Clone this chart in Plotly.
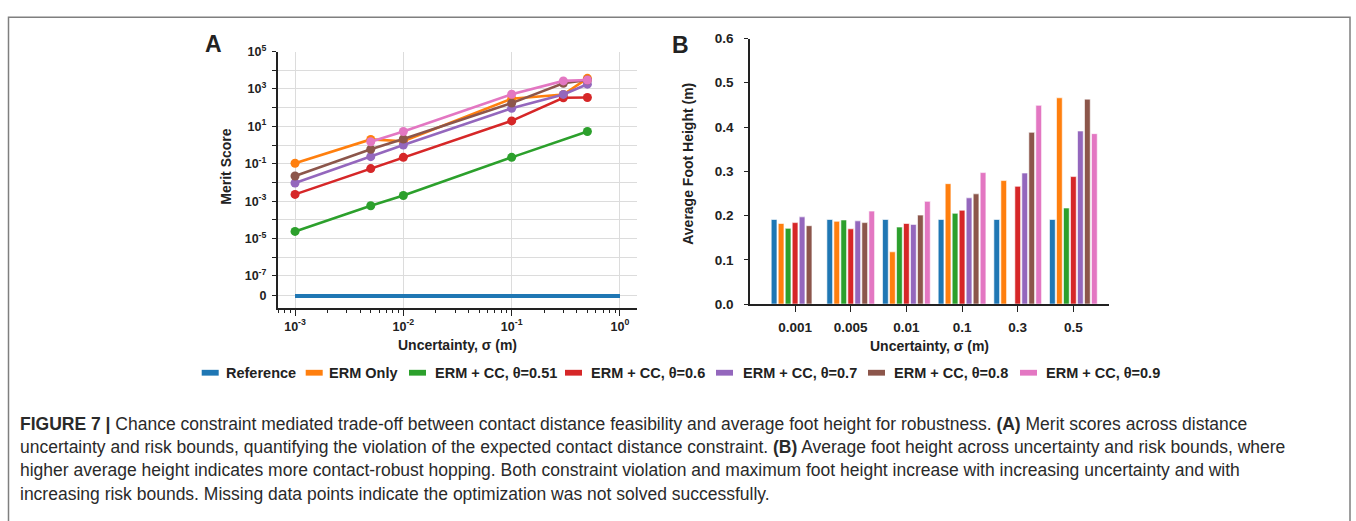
import plotly.graph_objects as go

W, H = 1356, 521

# ---------------- data ----------------
sigma = [0.001, 0.005, 0.01, 0.1, 0.3, 0.5]
sigma_labels = ["0.001", "0.005", "0.01", "0.1", "0.3", "0.5"]
series_names = ["Reference", "ERM Only", "ERM + CC, θ=0.51", "ERM + CC, θ=0.6",
                "ERM + CC, θ=0.7", "ERM + CC, θ=0.8", "ERM + CC, θ=0.9"]
colors = ["#1f77b4", "#ff7f0e", "#2ca02c", "#d62728", "#9467bd", "#8c564b", "#e377c2"]

# Panel A: merit scores (None = not solved)
reference_sigma = [0.001, 1.0]
reference_merit = [0, 0]
merit_erm = [0.107, 2.0, 1.6, 300, 500, 3700]
merit_051 = [2.4e-5, 5.7e-4, 2.0e-3, 0.22, None, 5.3]
merit_06 = [0.0023, 0.055, 0.22, 19.6, 340, 350]
merit_07 = [0.0093, 0.24, 1.0, 93, 510, 1800]
merit_08 = [0.022, 0.6, 2.1, 175, 2000, 3000]
merit_09 = [None, 1.5, 5.3, 520, 2700, 3000]

# Panel B: average foot height (m)
height_ref = [0.191, 0.191, 0.191, 0.191, 0.191, 0.191]
height_erm = [0.182, 0.187, 0.118, 0.272, 0.279, 0.466]
height_051 = [0.171, 0.190, 0.174, 0.205, None, 0.217]
height_06 = [0.184, 0.170, 0.182, 0.212, 0.266, 0.288]
height_07 = [0.197, 0.188, 0.180, 0.240, 0.296, 0.391]
height_08 = [0.177, 0.184, 0.201, 0.249, 0.388, 0.463]
height_09 = [None, 0.210, 0.232, 0.297, 0.449, 0.385]

# "0" on the broken log axis is drawn just below 10^-8
ZERO_DISPLAY = 8.5e-9
y_label_exponents = [5, 3, 1, -1, -3, -5, -7]
y_grid_exponents = [4, 2, 0, -2, -4, -6]
x_exponents = [-3, -2, -1, 0]

caption_lines = [
    "<b>FIGURE 7 |</b> Chance constraint mediated trade-off between contact distance feasibility and average foot height for robustness. <b>(A)</b> Merit scores across distance",
    "uncertainty and risk bounds, quantifying the violation of the expected contact distance constraint. <b>(B)</b> Average foot height across uncertainty and risk bounds, where",
    "higher average height indicates more contact-robust hopping. Both constraint violation and maximum foot height increase with increasing uncertainty and with",
    "increasing risk bounds. Missing data points indicate the optimization was not solved successfully.",
]

# ---------------- helpers ----------------
def px(x):
    return x / W

def py(y):
    return 1 - y / H

FONT = "Liberation Sans, Arial, sans-serif"
INK = "#222222"

fig = go.Figure()

# Panel A
fig.add_trace(go.Scatter(
    x=reference_sigma, y=[ZERO_DISPLAY if v == 0 else v for v in reference_merit],
    mode="lines", line=dict(color=colors[0], width=4),
    name=series_names[0], showlegend=False, xaxis="x", yaxis="y"))
merits = [merit_erm, merit_051, merit_06, merit_07, merit_08, merit_09]
for i, m in enumerate(merits):
    fig.add_trace(go.Scatter(
        x=sigma, y=m, mode="lines+markers", connectgaps=True,
        line=dict(color=colors[i + 1], width=2.6),
        marker=dict(color=colors[i + 1], size=9),
        name=series_names[i + 1], showlegend=False, xaxis="x", yaxis="y"))

# Panel B
heights = [height_ref, height_erm, height_051, height_06, height_07, height_08, height_09]
for i, h in enumerate(heights):
    fig.add_trace(go.Bar(
        x=sigma_labels, y=h, marker=dict(color=colors[i], line=dict(color="white", width=0.6)),
        name=series_names[i], showlegend=False, xaxis="x2", yaxis="y2"))

tickfont_a = dict(family=FONT, size=12.5, color=INK, weight="bold")
tickfont_b = dict(family=FONT, size=13.5, color=INK, weight="bold")

y_tickvals = [ZERO_DISPLAY] + [10.0 ** e for e in y_label_exponents]
y_ticktext = ["0"] + ["10<sup>%d</sup>" % e for e in y_label_exponents]
y_minor = [10.0 ** e for e in y_grid_exponents]
x_tickvals = [10.0 ** e for e in x_exponents]
x_ticktext = ["10<sup>%d</sup>" % e for e in x_exponents]
x_minor = [k * 10.0 ** e for e in range(-4, 1) for k in range(2, 10)]

fig.update_layout(
    width=W, height=H, margin=dict(l=0, r=0, t=0, b=0),
    paper_bgcolor="white", plot_bgcolor="white",
    barmode="group", bargap=0.12, bargroupgap=0.18,
    showlegend=False,
    xaxis=dict(domain=[px(277.7), px(637)], type="log", range=[-3.16, 0.157],
               tickvals=x_tickvals, ticktext=x_ticktext, tickfont=tickfont_a,
               ticks="outside", ticklen=6, tickcolor=INK, tickwidth=1.2,
               showgrid=True, gridcolor="#dcdcdc", gridwidth=1,
               showline=True, linecolor=INK, linewidth=1.6, zeroline=False,
               minor=dict(tickvals=x_minor, ticks="outside", ticklen=3, tickcolor=INK, showgrid=False),
               anchor="y"),
    yaxis=dict(domain=[py(309), py(44)], type="log", range=[-8.71, 5.0],
               tickvals=y_tickvals, ticktext=y_ticktext, tickfont=tickfont_a,
               ticks="outside", ticklen=4, tickcolor=INK, tickwidth=1.2, ticklabelstandoff=3,
               showgrid=True, gridcolor="#dcdcdc", gridwidth=1,
               showline=True, linecolor=INK, linewidth=1.6, zeroline=False,
               minor=dict(tickvals=y_minor, ticks="outside", ticklen=4, tickcolor=INK,
                          showgrid=True, gridcolor="#dcdcdc", gridwidth=1),
               anchor="x"),
    xaxis2=dict(domain=[px(750), px(1109)], type="category", range=[-0.81, 5.64],
                tickfont=tickfont_b, ticks="outside", ticklen=6, tickcolor=INK, tickwidth=1.2,
                ticklabelstandoff=4,
                showgrid=False, showline=True, linecolor=INK, linewidth=1.6, anchor="y2"),
    yaxis2=dict(domain=[py(305), py(30.5)], range=[0, 0.6], dtick=0.1, tickformat=".1f",
                tickfont=tickfont_b, ticks="outside", ticklen=4, tickcolor=INK, tickwidth=1.2,
                ticklabelstandoff=8,
                showgrid=False, showline=True, linecolor=INK, linewidth=1.6, zeroline=False,
                anchor="x2"),
)

annotations = []
def add_text(text, x, y, size, angle=0, xanchor="center", bold=True, color=INK):
    annotations.append(dict(
        text=text, x=px(x), y=py(y), xref="paper", yref="paper",
        xanchor=xanchor, yanchor="middle", showarrow=False, textangle=angle,
        font=dict(family=FONT, size=size, color=color, weight="bold" if bold else "normal")))

# panel letters
add_text("A", 213, 36.5, 23)
add_text("B", 680, 37.5, 23)
# axis titles
add_text("Merit Score", 226, 163, 14, angle=-90)
add_text("Uncertainty, σ (m)", 457, 347, 14)
add_text("Average Foot Height (m)", 688, 160, 14, angle=-90)
add_text("Uncertainty, σ (m)", 929, 348, 14)

# legend (manual, rectangular patches)
legend_patch_left = [201.7, 305.7, 409, 565, 716, 868, 1020]
legend_text_left = [225, 328, 434, 590, 741.7, 893, 1045]
shapes = []
for name, col, pl, tl in zip(series_names, colors, legend_patch_left, legend_text_left):
    shapes.append(dict(type="rect", xref="paper", yref="paper",
                       x0=px(pl), x1=px(pl + 17), y0=py(379), y1=py(373),
                       fillcolor=col, line=dict(width=0)))
    add_text(name, tl - 1, 376, 14.5, xanchor="left")

# caption
caption_y = [429, 453, 477, 501]
for line, yy in zip(caption_lines, caption_y):
    annotations.append(dict(
        text=line, x=px(18), y=py(yy), xref="paper", yref="paper",
        xanchor="left", yanchor="middle", showarrow=False, align="left",
        font=dict(family=FONT, size=17.5, color="#2a2a2a")))

# frame
shapes.append(dict(type="rect", xref="paper", yref="paper",
                   x0=px(8.5), x1=px(1350), y0=py(540), y1=py(8.5),
                   line=dict(color="#7f7f7f", width=1.5), fillcolor="rgba(0,0,0,0)"))

fig.update_layout(annotations=annotations, shapes=shapes)

fig.write_html("out.html")
